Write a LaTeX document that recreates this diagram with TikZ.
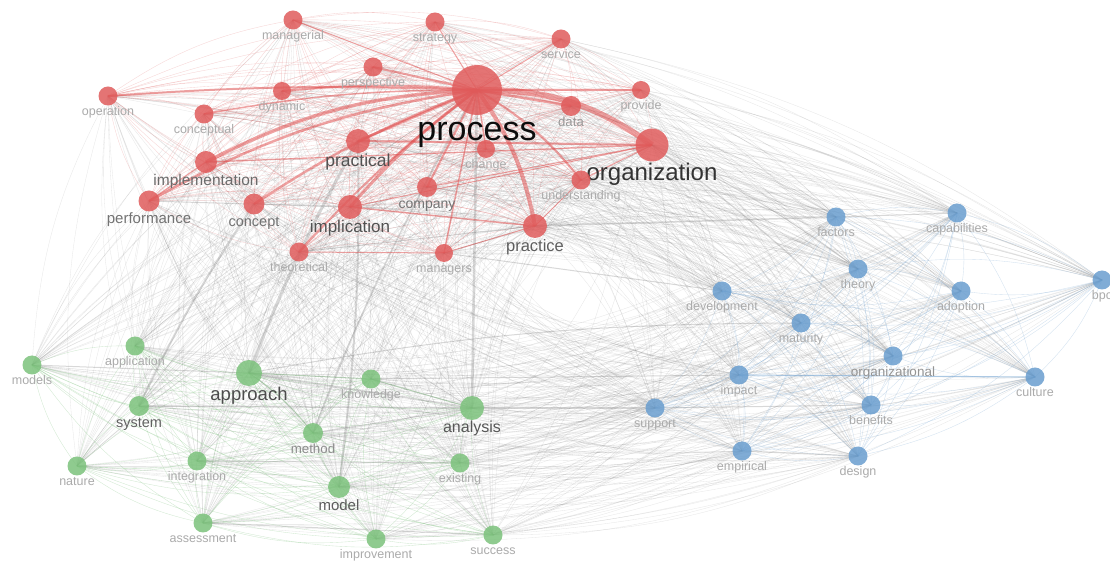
\documentclass[tikz,border=0pt]{standalone}
\usepackage{fontspec}
\setmainfont{Liberation Sans}
\usetikzlibrary{backgrounds}
\definecolor{rn}{HTML}{E05C5C}
\definecolor{gn}{HTML}{7CC27C}
\definecolor{bn}{HTML}{6A9ECF}
\definecolor{re}{HTML}{E04848}
\definecolor{labs}{HTML}{ABABAB}
\newcommand\fs[1]{\fontsize{\fpeval{#1/2}}{\fpeval{#1/2}}\selectfont}
\tikzset{
  lw/.style={line width=#1*0.5pt},
  kwnode/.style={circle, inner sep=0pt, draw=none, fill opacity=0.85},
  kwlab/.style={inner sep=0pt, anchor=north},
  meshR/.style={draw=rn, lw=0.35, draw opacity=0.26},
  meshG/.style={draw=gn, lw=0.35, draw opacity=0.35},
  meshB/.style={draw=bn, lw=0.35, draw opacity=0.3},
  meshX/.style={draw=black!60, lw=0.3, draw opacity=0.17},
  strR/.style={draw=re, draw opacity=0.5},
  strX/.style={draw=black!50, draw opacity=0.3},
  strG/.style={draw=gn!80!black, draw opacity=0.45},
  strB/.style={draw=bn, draw opacity=0.55}
}
\newcommand\kw[8]{%
  \node[kwnode, fill=#5, minimum size=#4*1pt] (#1) at (#2,#3) {};
  \node[kwlab, text=#8, font=\fs{#7}] (#1-l) at ([yshift=-0.25pt]#1.south) {#6\vphantom{lg}};}
\newcommand\kwedge[3]{%
  \pgfpointanchor{#1}{center}\pgfgetlastxy\kxa\kya
  \pgfpointanchor{#2}{center}\pgfgetlastxy\kxb\kyb
  \ifnum\fpeval{sign(-(\kyb-\kya)*((\kxa+\kxb)/2-280pt)+(\kxb-\kxa)*((\kya+\kyb)/2+140pt))}>0\relax
    \draw[#3] (#1.center) to[bend left=12] (#2.center);
  \else
    \draw[#3] (#1.center) to[bend right=12] (#2.center);
  \fi}
\def\kwR{managerial,strategy,service,perspective,process,dynamic,operation,conceptual,provide,data,practical,organization,change,implementation,company,understanding,performance,concept,implication,practice,theoretical,managers}
\def\kwG{application,models,approach,knowledge,system,analysis,method,integration,nature,existing,model,assessment,improvement,success}
\def\kwB{factors,capabilities,theory,bpc,development,adoption,maturity,organizational,impact,culture,support,benefits,empirical,design}
\begin{document}
\begin{tikzpicture}[x=0.5pt,y=-0.5pt]
\useasboundingbox (0,0) rectangle (1110,561);
% red cluster
\kw{managerial}{293}{20}{9.5}{rn}{managerial}{12.5}{labs}
\kw{strategy}{435}{22}{9.5}{rn}{strategy}{12.5}{labs}
\kw{service}{561}{39}{9.5}{rn}{service}{12.5}{labs}
\kw{perspective}{373}{67}{9.5}{rn}{perspective}{12.5}{labs}
\kw{process}{477}{90}{25}{rn}{process}{34}{black!95}
\kw{dynamic}{282}{91}{9}{rn}{dynamic}{12.5}{labs}
\kw{operation}{108}{96}{9.5}{rn}{operation}{12.5}{labs}
\kw{conceptual}{204}{114}{9.5}{rn}{conceptual}{12.5}{labs}
\kw{provide}{641}{90}{9}{rn}{provide}{12.5}{labs}
\kw{data}{571}{106}{10}{rn}{data}{13.2}{black!40}
\kw{practical}{358}{141}{12}{rn}{practical}{17.5}{black!68}
\kw{organization}{652}{145}{16.5}{rn}{organization}{24}{black!80}
\kw{change}{486}{149}{9}{rn}{change}{12.5}{labs}
\kw{implementation}{206}{162}{11}{rn}{implementation}{15.5}{black!58}
\kw{company}{427}{187}{10}{rn}{company}{14}{black!55}
\kw{understanding}{581}{180}{9.5}{rn}{understanding}{12.5}{labs}
\kw{performance}{149}{201}{10.5}{rn}{performance}{15}{black!55}
\kw{concept}{254}{204}{10.5}{rn}{concept}{14.5}{black!55}
\kw{implication}{350}{207}{12}{rn}{implication}{17}{black!68}
\kw{practice}{535}{226}{12}{rn}{practice}{16.5}{black!63}
\kw{theoretical}{299}{252}{9.5}{rn}{theoretical}{12.5}{labs}
\kw{managers}{444}{253}{9}{rn}{managers}{12.5}{labs}
% green cluster
\kw{application}{135}{346}{9.5}{gn}{application}{12.5}{labs}
\kw{models}{32}{365}{9.5}{gn}{models}{12.5}{labs}
\kw{approach}{249}{373}{13}{gn}{approach}{18.5}{black!70}
\kw{knowledge}{371}{379}{9.5}{gn}{knowledge}{12.5}{labs}
\kw{system}{139}{406}{10}{gn}{system}{14.5}{black!62}
\kw{analysis}{472}{408}{12}{gn}{analysis}{16}{black!66}
\kw{method}{313}{433}{10}{gn}{method}{13.3}{black!45}
\kw{integration}{197}{461}{9.5}{gn}{integration}{12.5}{labs}
\kw{nature}{77}{466}{9.5}{gn}{nature}{12.5}{labs}
\kw{existing}{460}{463}{9.5}{gn}{existing}{12.5}{labs}
\kw{model}{339}{487}{11}{gn}{model}{15}{black!64}
\kw{assessment}{203}{523}{9.5}{gn}{assessment}{12.5}{labs}
\kw{improvement}{376}{539}{9.5}{gn}{improvement}{12.5}{labs}
\kw{success}{493}{535}{9.5}{gn}{success}{12.5}{labs}
% blue cluster
\kw{factors}{836}{217}{9.5}{bn}{factors}{12.5}{labs}
\kw{capabilities}{957}{213}{9.5}{bn}{capabilities}{12.5}{labs}
\kw{theory}{858}{269}{9.5}{bn}{theory}{12.5}{labs}
\kw{bpc}{1102}{280}{9.5}{bn}{bpc}{12.5}{labs}
\kw{development}{722}{291}{9.5}{bn}{development}{12.5}{labs}
\kw{adoption}{961}{291}{9.5}{bn}{adoption}{12.5}{labs}
\kw{maturity}{801}{323}{9.5}{bn}{maturity}{12.5}{labs}
\kw{organizational}{893}{356}{9.5}{bn}{organizational}{13.5}{black!42}
\kw{impact}{739}{375}{9.5}{bn}{impact}{12.5}{labs}
\kw{culture}{1035}{377}{9.5}{bn}{culture}{12.5}{labs}
\kw{support}{655}{408}{9.5}{bn}{support}{12.5}{labs}
\kw{benefits}{871}{405}{9.5}{bn}{benefits}{12.5}{labs}
\kw{empirical}{742}{451}{9.5}{bn}{empirical}{12.5}{labs}
\kw{design}{858}{456}{9.5}{bn}{design}{12.5}{labs}
\begin{pgfonlayer}{background}
\fill[white] (0,0) rectangle (1110,561);
% inter-cluster links
\foreach \a in \kwR {\foreach \b in \kwG {\kwedge{\a}{\b}{meshX}}}
\foreach \a in \kwR {\foreach \b in \kwB {\kwedge{\a}{\b}{meshX}}}
\foreach \a in \kwG {\foreach \b in \kwB {\kwedge{\a}{\b}{meshX}}}
% intra-cluster links
\foreach \a [count=\i] in \kwR {\foreach \b [count=\j] in \kwR {\ifnum\j>\i\relax\kwedge{\a}{\b}{meshR}\fi}}
\foreach \a [count=\i] in \kwG {\foreach \b [count=\j] in \kwG {\ifnum\j>\i\relax\kwedge{\a}{\b}{meshG}\fi}}
\foreach \a [count=\i] in \kwB {\foreach \b [count=\j] in \kwB {\ifnum\j>\i\relax\kwedge{\a}{\b}{meshB}\fi}}
% strong gray links
\draw[strX, lw=2.5] (process.center) -- (analysis.center);
\draw[strX, lw=3] (approach.center) to[bend left=4] (practical.center);
\draw[strX, lw=2] (system.center) to[bend left=4] (concept.center);
\draw[strX, lw=2] (model.center) to[bend right=4] (practical.center);
\draw[strX, lw=1.5] (method.center) to[bend left=4] (process.center);
\draw[strX, lw=1.5] (approach.center) -- (analysis.center);
\draw[strX, lw=1.5] (system.center) -- (analysis.center);
\draw[strX, lw=1.5] (analysis.center) -- (support.center);
\draw[strX, lw=1] (knowledge.center) -- (impact.center);
\draw[strX, lw=1] (models.center) -- (approach.center);
\draw[strX, lw=1] (integration.center) -- (existing.center);
\draw[strX, lw=1] (assessment.center) -- (success.center);
\draw[strX, lw=1] (method.center) -- (analysis.center);
\draw[strX, lw=1.5] (practice.center) -- (factors.center);
\draw[strX, lw=1] (factors.center) -- (capabilities.center);
\draw[strX, lw=1] (managers.center) -- (development.center);
\draw[strX, lw=1] (approach.center) to[bend left=5] (maturity.center);
\draw[strX, lw=1.2] (organization.center) to[bend left=5] (organizational.center);
\draw[strX, lw=1] (organization.center) to[bend left=5] (theory.center);
\draw[strX, lw=1] (support.center) -- (benefits.center);
\draw[strX, lw=1.2] (empirical.center) -- (design.center);
\draw[strX, lw=1] (theoretical.center) -- (practice.center);
\draw[strX, lw=1] (performance.center) -- (implication.center);
% strong cluster links
\draw[strB, lw=1] (impact.center) -- (culture.center);
\draw[strG, lw=1] (approach.center) -- (knowledge.center);
\draw[strG, lw=1] (approach.center) to[bend left=8] (method.center);
\draw[strG, lw=1] (knowledge.center) -- (analysis.center);
\draw[strR, lw=6] (process.center) to[bend left=18] (organization.center);
\draw[strR, lw=3.5] (implementation.center) to[bend left=12] (process.center);
\draw[strR, lw=2.5] (performance.center) to[bend left=10] (process.center);
\draw[strR, lw=4] (process.center) to[bend left=12] (practice.center);
\draw[strR, lw=2.5] (process.center) -- (practical.center);
\draw[strR, lw=3] (implication.center) to[bend left=6] (process.center);
\draw[strR, lw=2.5] (concept.center) to[bend left=6] (process.center);
\draw[strR, lw=2] (process.center) to[bend left=10] (understanding.center);
\draw[strR, lw=2.5] (process.center) -- (data.center);
\draw[strR, lw=2] (process.center) -- (company.center);
\draw[strR, lw=1.5] (process.center) -- (change.center);
\draw[strR, lw=2] (process.center) -- (perspective.center);
\draw[strR, lw=2] (dynamic.center) to[bend left=5] (process.center);
\draw[strR, lw=2] (operation.center) to[bend left=3] (process.center);
\draw[strR, lw=2] (theoretical.center) to[bend left=5] (process.center);
\draw[strR, lw=1.5] (managers.center) -- (process.center);
\draw[strR, lw=1.5] (conceptual.center) to[bend left=5] (process.center);
\draw[strR, lw=1.5] (process.center) -- (provide.center);
\draw[strR, lw=1] (process.center) -- (strategy.center);
\draw[strR, lw=1] (process.center) -- (service.center);
\draw[strR, lw=1] (managerial.center) -- (process.center);
\draw[strR, lw=2] (practical.center) -- (organization.center);
\draw[strR, lw=1.2] (implementation.center) -- (organization.center);
\draw[strR, lw=1.5] (implication.center) -- (practice.center);
\draw[strR, lw=1] (theoretical.center) -- (managers.center);
\draw[strR, lw=1] (organization.center) -- (company.center);
\draw[strR, lw=1] (organization.center) -- (implication.center);
\draw[strR, lw=1] (organization.center) -- (understanding.center);
\draw[strR, lw=1] (practice.center) -- (understanding.center);
\draw[strR, lw=1] (practice.center) -- (managers.center);
\draw[strR, lw=1.2] (performance.center) -- (implementation.center);
\end{pgfonlayer}
\end{tikzpicture}
\end{document}
